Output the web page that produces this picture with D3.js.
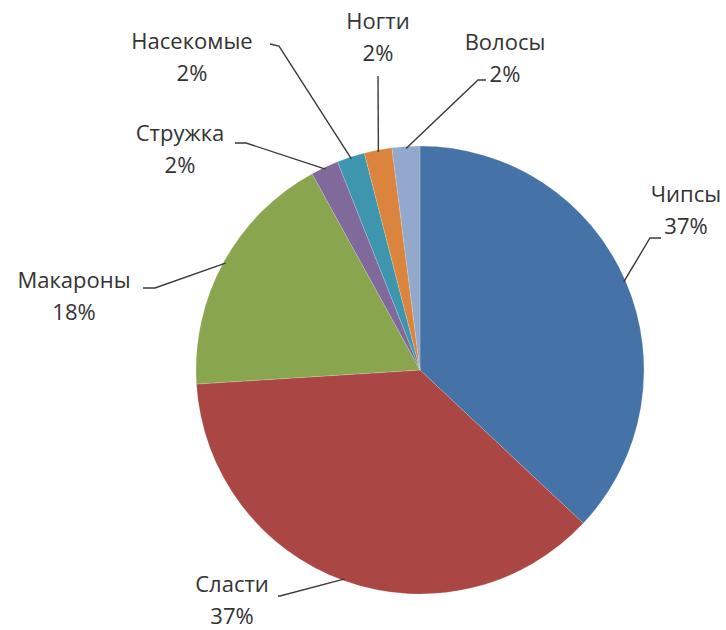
<!DOCTYPE html>
<html>
<head>
<meta charset="utf-8">
<script src="https://cdn.jsdelivr.net/npm/d3@7"></script>
<style>
  body { margin: 0; background: #fff; }
  text { font-family: "Open Sans", sans-serif; font-size: 22px; fill: #333; }
</style>
</head>
<body>
<div id="chart"></div>
<script>
// data
const categories = ["Чипсы", "Сласти", "Макароны", "Стружка", "Насекомые", "Ногти", "Волосы"];
const values = [37, 37, 18, 2, 2, 2, 2];
const colors = ["#4572A7", "#AA4643", "#89A54E", "#80699B", "#3D96AE", "#DB843D", "#92A8CD"];

// where each label block sits (center x, baseline of first line) and leader line elbow
const labelPos = {
    "Чипсы":     { x: 686, y: 202, elbow: [650, 238], start: [661, 238] },
    "Сласти":    { x: 232, y: 592, elbow: [280, 596], start: [278, 596] },
    "Макароны":  { x: 74,  y: 288, elbow: [155, 288], start: [143, 288] },
    "Стружка":   { x: 180, y: 141, elbow: [246, 143], start: [235, 143] },
    "Насекомые": { x: 192, y: 49,  elbow: [279, 46],  start: [270, 44] },
    "Ногти":     { x: 378, y: 29,  elbow: [378, 76],  start: [378, 76] },
    "Волосы":    { x: 505, y: 50,  elbow: [478, 80],  start: [486, 80] }
};

const width = 726, height = 630;
const cx = 420, cy = 370, radius = 224;

const svg = d3.select("#chart")
    .append("svg")
    .attr("width", width)
    .attr("height", height);

const g = svg.append("g")
    .attr("transform", `translate(${cx}, ${cy})`);

const data = categories.map((c, i) => ({ name: c, value: values[i], color: colors[i] }));

const pie = d3.pie()
    .sort(null)
    .value(d => d.value);

const arc = d3.arc()
    .innerRadius(0)
    .outerRadius(radius);

const arcs = pie(data);

g.selectAll("path")
    .data(arcs)
    .enter()
    .append("path")
    .attr("d", arc)
    .attr("fill", d => d.data.color)
    .attr("stroke", "rgba(255,255,255,0.35)")
    .attr("stroke-width", 0.5);

// leader lines from the slice edge to the label
const edgePoint = function (d) {
    const a = (d.startAngle + d.endAngle) / 2;
    return [cx + Math.sin(a) * (radius - 2), cy - Math.cos(a) * (radius - 2)];
};

svg.selectAll("polyline")
    .data(arcs)
    .enter()
    .append("polyline")
    .attr("points", d => {
        const p = labelPos[d.data.name];
        return [p.start, p.elbow, edgePoint(d)].map(q => q.join(",")).join(" ");
    })
    .attr("fill", "none")
    .attr("stroke", "#3a3a3a")
    .attr("stroke-width", 1.4);

// labels: name and percent
const total = d3.sum(values);
const labels = svg.selectAll("text.label")
    .data(arcs)
    .enter()
    .append("text")
    .attr("class", "label")
    .attr("text-anchor", "middle")
    .attr("x", d => labelPos[d.data.name].x)
    .attr("y", d => labelPos[d.data.name].y);

labels.append("tspan")
    .attr("x", d => labelPos[d.data.name].x)
    .text(d => d.data.name);

labels.append("tspan")
    .attr("x", d => labelPos[d.data.name].x)
    .attr("dy", 32)
    .text(d => Math.round(d.data.value / total * 100) + "%");
</script>
</body>
</html>
